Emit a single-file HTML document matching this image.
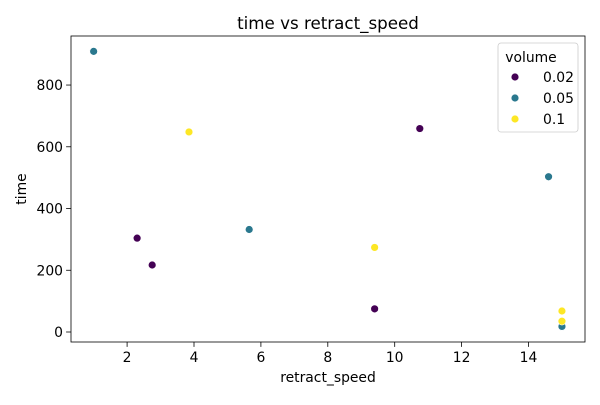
<!DOCTYPE html>
<html><head><meta charset="utf-8"><style>
body{margin:0;background:#fff;font-family:"Liberation Sans","DejaVu Sans",sans-serif}
svg text{font-family:"DejaVu Sans","Liberation Sans",sans-serif;fill:#000}
</style></head><body>
<svg id="c" width="600" height="400"></svg>
<script>
const xs=[1.0,3.85,10.75,14.6,2.3,2.75,5.65,9.4,9.4,15.0,15.0,15.0];
const ys=[909,648,659,503,304,217,332,274,75,18,68,35];
const vols=["0.05","0.1","0.02","0.05","0.02","0.02","0.05","0.1","0.02","0.05","0.1","0.1"];
const legendLabels=["0.02","0.05","0.1"];
const colors={"0.02":"#440154","0.05":"#2a788e","0.1":"#fde725"};
const xTicks=[2,4,6,8,10,12,14];
const yTicks=[0,200,400,600,800];
const L=71,R=585,T=36,B=342;
const sx=v=>60.2+v*33.45;
const sy=v=>332-v*0.3087;
const svg=document.getElementById('c');
const NS='http://www.w3.org/2000/svg';
function mk(t,a,txt){const e=document.createElementNS(NS,t);for(const k in a)e.setAttribute(k,a[k]);if(txt!==undefined)e.textContent=txt;svg.appendChild(e);return e;}
let e;
e=mk('rect',{x:L,y:T,width:R-L,height:B-T,fill:'none',stroke:'#000','stroke-width':0.8});


xTicks.forEach(t=>{const x=sx(t);
e=mk('line',{x1:x,x2:x,y1:B,y2:B+4.9,stroke:'#000','stroke-width':0.8});


e=mk('text',{x:x,y:B+20,'font-size':13.9,'text-anchor':'middle'},String(t));

});
yTicks.forEach(t=>{const y=sy(t);
e=mk('line',{x1:L-4.9,x2:L,y1:y,y2:y,stroke:'#000','stroke-width':0.8});


e=mk('text',{x:L-8,y:y+5,'font-size':13.9,'text-anchor':'end'},String(t));

});
xs.forEach((v,i)=>{
e=mk('circle',{cx:sx(v),cy:sy(ys[i]),r:3.9,fill:colors[vols[i]],stroke:'#fff','stroke-width':0.6});

});
e=mk('text',{x:328,y:29,'font-size':16.7,'text-anchor':'middle'},'time vs retract_speed');


e=mk('text',{x:328,y:382,'font-size':13.9,'text-anchor':'middle'},'retract_speed');


e=mk('text',{x:26,y:189,'font-size':13.9,'text-anchor':'middle',transform:'rotate(-90 26 189)'},'time');


e=mk('rect',{x:498,y:43,width:80,height:89,rx:3,fill:'#fff',stroke:'#ccc','stroke-width':0.8});


e=mk('text',{x:531,y:62,'font-size':13.9,'text-anchor':'middle'},'volume');


legendLabels.forEach((l,i)=>{const y=77+i*21;
e=mk('circle',{cx:515,cy:y,r:3.9,fill:colors[l],stroke:'#fff','stroke-width':0.6});


e=mk('text',{x:543,y:y+5,'font-size':13.9},l);

});
</script>
</body></html>
